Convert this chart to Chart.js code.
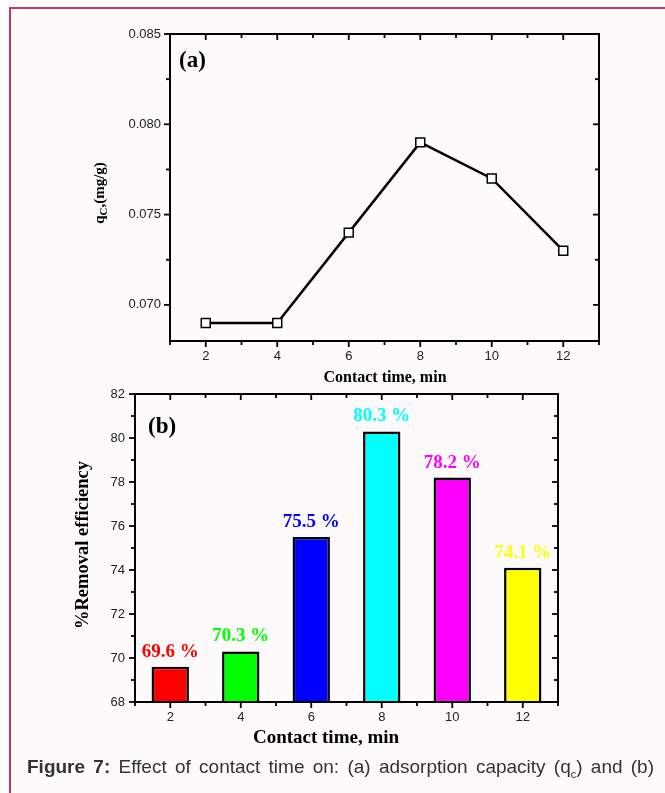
<!DOCTYPE html>
<html>
<head>
<meta charset="utf-8">
<script src="https://cdn.jsdelivr.net/npm/chart.js@4.4.0/dist/chart.umd.min.js"></script>
<style>
  html, body { margin: 0; padding: 0; width: 665px; height: 793px; overflow: hidden; background: #fefefe; }
  #marco { position: absolute; left: 9px; top: 7px; width: 700px; height: 800px;
           border-left: 2px solid #c8385c; border-top: 2px solid #c8385c; background: #fcfafb; }
  canvas { position: absolute; left: 0; }
  #graficoA { top: 0; }
  #graficoB { top: 380px; }
  #pie { position: absolute; left: 27px; top: 756px; width: 627px;
         font-family: "Liberation Sans", Arial, sans-serif; font-size: 19px; color: #333;
         text-align: justify; text-align-last: justify; line-height: 22px; }
  #pie sub { font-size: 11px; }
</style>
</head>
<body>
<div id="marco"></div>
<canvas id="graficoA" width="665" height="390"></canvas>
<canvas id="graficoB" width="665" height="413"></canvas>
<div id="pie"><b>Figure 7:</b> Effect of contact time on: (a) adsorption capacity (q<sub>c</sub>) and (b)</div>
<script>
// Datos
const tiempos = [2, 4, 6, 8, 10, 12];                       // Contact time, min
const capacidadQc = [0.069, 0.069, 0.074, 0.079, 0.077, 0.073]; // q_C (mg/g)
const remocion = [69.6, 70.3, 75.5, 80.3, 78.2, 74.1];       // % Removal efficiency
const coloresBarras = ['#ff0000', '#00ff00', '#0000ff', '#00ffff', '#ff00ff', '#ffff00'];

// Etiquetas de los ejes
const ticksX = [2, 4, 6, 8, 10, 12];
const ticksYa = [0.070, 0.075, 0.080, 0.085];
const ticksYb = [68, 70, 72, 74, 76, 78, 80, 82];

const fuenteNum = { family: '"Liberation Sans", Arial, sans-serif', size: 13 };
const serif = '"Liberation Serif", "Times New Roman", serif';

// Marcas menores: puntos medios entre las mayores (y una más a cada lado si cabe)
function menores(mayores, min, max) {
  const paso = mayores[1] - mayores[0];
  const res = [];
  for (let i = -1; i < mayores.length; i++) {
    const v = (i < 0 ? mayores[0] - paso : mayores[i]) + paso / 2;
    if (v >= min - 1e-9 && v <= max + 1e-9) res.push(v);
  }
  return res;
}

// Plugin: marco cerrado con marcas hacia afuera (izq/abajo) y hacia adentro (der/arriba)
const marcoEjes = {
  id: 'marcoEjes',
  afterDraw(chart) {
    const { ctx, chartArea: a, scales } = chart;
    const sx = scales.x, sy = scales.y;
    ctx.save();
    ctx.strokeStyle = '#000';
    ctx.lineWidth = 2;
    ctx.strokeRect(a.left, a.top, a.right - a.left, a.bottom - a.top);
    ctx.lineWidth = 1.8;
    const linea = (x1, y1, x2, y2) => { ctx.beginPath(); ctx.moveTo(x1, y1); ctx.lineTo(x2, y2); ctx.stroke(); };
    const mayX = sx.ticks.map(t => t.value);
    const mayY = sy.ticks.map(t => t.value);
    const marcasX = mayX.map(v => [v, 6]).concat(menores(mayX, sx.min, sx.max).map(v => [v, 4]));
    const marcasY = mayY.map(v => [v, 6]).concat(menores(mayY, sy.min, sy.max).map(v => [v, 4]));
    marcasX.forEach(([v, l]) => {
      const x = sx.getPixelForValue(v);
      linea(x, a.bottom, x, a.bottom + l);
      linea(x, a.top, x, a.top + l);
    });
    marcasY.forEach(([v, l]) => {
      const y = sy.getPixelForValue(v);
      linea(a.left - l, y, a.left, y);
      linea(a.right - l, y, a.right, y);
    });
    ctx.restore();
  }
};

// Plugin: textos (rótulo del panel, títulos de ejes, valores sobre barras)
const textos = {
  id: 'textos',
  afterDraw(chart, args, o) {
    const { ctx } = chart;
    ctx.save();
    ctx.fillStyle = '#000';
    ctx.textBaseline = 'middle';
    ctx.font = 'bold 23px ' + serif;
    ctx.textAlign = 'left';
    ctx.fillText(o.panel, o.panelX, o.panelY);

    ctx.font = 'bold ' + o.tituloX.size + 'px ' + serif;
    ctx.textAlign = 'center';
    ctx.fillText(o.tituloX.text, o.tituloX.x, o.tituloX.y);

    // título del eje y, rotado
    ctx.translate(o.tituloY.x, o.tituloY.y);
    ctx.rotate(-Math.PI / 2);
    const t = o.tituloY;
    if (t.sub) {
      ctx.font = 'bold ' + t.size + 'px ' + serif;
      const w1 = ctx.measureText(t.text).width;
      ctx.font = 'bold ' + Math.round(t.size * 0.75) + 'px ' + serif;
      const w2 = ctx.measureText(t.sub).width;
      ctx.font = 'bold ' + t.size + 'px ' + serif;
      const w3 = ctx.measureText(t.resto).width;
      let x = -(w1 + w2 + w3) / 2;
      ctx.textAlign = 'left';
      ctx.fillText(t.text, x, 0);
      ctx.font = 'bold ' + Math.round(t.size * 0.75) + 'px ' + serif;
      ctx.fillText(t.sub, x + w1, 4);
      ctx.font = 'bold ' + t.size + 'px ' + serif;
      ctx.fillText(t.resto, x + w1 + w2, 0);
    } else {
      ctx.font = 'bold ' + t.size + 'px ' + serif;
      ctx.fillText(t.text, 0, 0);
    }
    ctx.restore();

    // valores sobre las barras
    if (o.valores) {
      const meta = chart.getDatasetMeta(0);
      ctx.save();
      ctx.font = 'bold 19px ' + serif;
      ctx.textAlign = 'center';
      ctx.textBaseline = 'alphabetic';
      meta.data.forEach((barra, i) => {
        ctx.fillStyle = coloresBarras[i];
        ctx.fillText(remocion[i].toFixed(1) + ' %', barra.x, barra.y - 10);
      });
      ctx.restore();
    }
  }
};

// Gráfico (a) - capacidad de adsorción
new Chart(document.getElementById('graficoA'), {
  type: 'line',
  data: {
    datasets: [{
      data: tiempos.map((t, i) => ({ x: t, y: capacidadQc[i] })),
      borderColor: '#000',
      borderWidth: 2.5,
      pointStyle: 'rect',
      pointRadius: 6.3,
      pointBackgroundColor: '#fff',
      pointBorderColor: '#000',
      pointBorderWidth: 1.5,
      clip: false
    }]
  },
  options: {
    responsive: false,
    animation: false,
    devicePixelRatio: 1,
    layout: { padding: { top: 34, right: 66, bottom: 0, left: 0 } },
    plugins: {
      legend: { display: false },
      tooltip: { enabled: false },
      textos: {
        panel: '(a)', panelX: 179, panelY: 61,
        tituloX: { text: 'Contact time, min', size: 16, x: 385, y: 378 },
        tituloY: { text: 'q', sub: 'C', resto: ',(mg/g)', size: 15, x: 100, y: 193 }
      }
    },
    scales: {
      x: {
        type: 'linear', min: 1, max: 13,
        afterBuildTicks: s => { s.ticks = ticksX.map(v => ({ value: v })); },
        afterFit: s => { s.height = 49; },
        grid: { display: false }, border: { display: false },
        ticks: { font: fuenteNum, color: '#222', padding: 0 }
      },
      y: {
        min: 0.068, max: 0.085,
        afterBuildTicks: s => { s.ticks = ticksYa.map(v => ({ value: v })); },
        afterFit: s => { s.width = 170; },
        grid: { display: false }, border: { display: false },
        ticks: { font: fuenteNum, color: '#222', padding: 1, callback: v => v.toFixed(3) }
      }
    }
  },
  plugins: [marcoEjes, textos]
});

// Gráfico (b) - porcentaje de remoción
new Chart(document.getElementById('graficoB'), {
  type: 'bar',
  data: {
    datasets: [{
      data: tiempos.map((t, i) => ({ x: t, y: remocion[i] })),
      backgroundColor: coloresBarras,
      borderColor: '#000',
      borderWidth: 2.5,
      categoryPercentage: 1,
      barPercentage: 0.53
    }]
  },
  options: {
    responsive: false,
    animation: false,
    devicePixelRatio: 1,
    layout: { padding: { top: 14, right: 107, bottom: 0, left: 0 } },
    plugins: {
      legend: { display: false },
      tooltip: { enabled: false },
      textos: {
        panel: '(b)', panelX: 148, panelY: 47,
        tituloX: { text: 'Contact time, min', size: 19, x: 326, y: 358 },
        tituloY: { text: '%Removal efficiency', size: 18.5, x: 83, y: 165 },
        valores: true
      }
    },
    scales: {
      x: {
        type: 'linear', min: 1, max: 13, offset: false,
        afterBuildTicks: s => { s.ticks = ticksX.map(v => ({ value: v })); },
        afterFit: s => { s.height = 91; },
        grid: { display: false, offset: false }, border: { display: false },
        ticks: { font: fuenteNum, color: '#222', padding: 0 }
      },
      y: {
        min: 68, max: 82,
        afterBuildTicks: s => { s.ticks = ticksYb.map(v => ({ value: v })); },
        afterFit: s => { s.width = 135; },
        grid: { display: false }, border: { display: false },
        ticks: { font: fuenteNum, color: '#222', padding: 2 }
      }
    }
  },
  plugins: [marcoEjes, textos]
});
</script>
</body>
</html>
